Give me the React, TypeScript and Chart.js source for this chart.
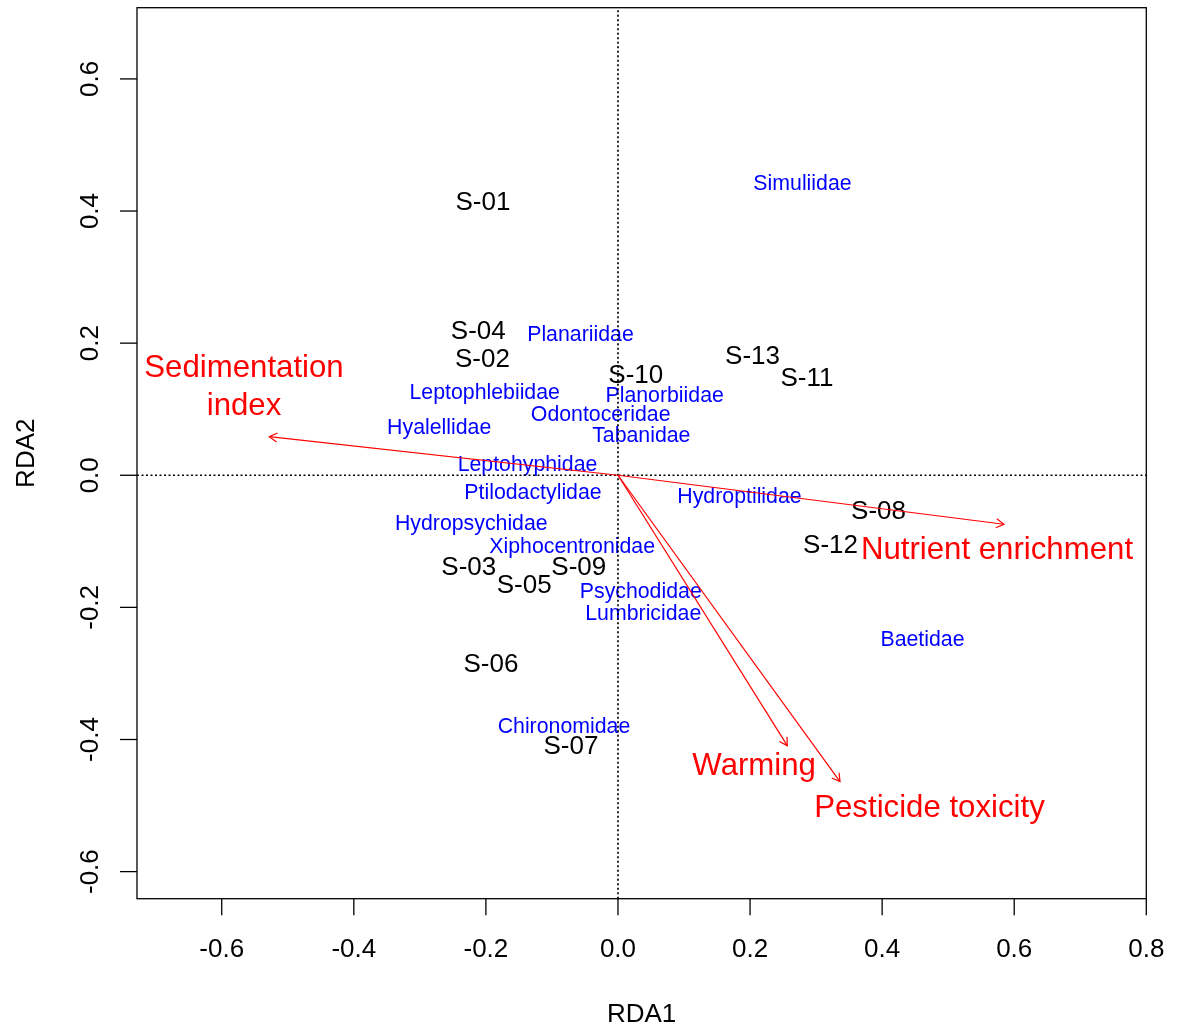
import React, { useEffect, useRef } from "react";
import { Chart, registerables } from "chart.js";

Chart.register(...registerables);

// ---- Data (RDA biplot scores) ----
const siteLabels = ["S-01", "S-02", "S-03", "S-04", "S-05", "S-06", "S-07", "S-08", "S-09", "S-10", "S-11", "S-12", "S-13"];
const siteRDA1 = [-0.2044, -0.2052, -0.2259, -0.2115, -0.142, -0.1923, -0.0712, 0.3945, -0.0594, 0.027, 0.2862, 0.3218, 0.2037];
const siteRDA2 = [0.4152, 0.1783, -0.1365, 0.2204, -0.1635, -0.2841, -0.4083, -0.0525, -0.1365, 0.1544, 0.1488, -0.104, 0.1821];

const speciesLabels = ["Simuliidae", "Planariidae", "Leptophlebiidae", "Planorbiidae", "Odontoceridae", "Hyalellidae", "Tabanidae", "Leptohyphidae", "Ptilodactylidae", "Hydroptilidae", "Hydropsychidae", "Xiphocentronidae", "Psychodidae", "Lumbricidae", "Baetidae", "Chironomidae"];
const speciesRDA1 = [0.2794, -0.0568, -0.2018, 0.0707, -0.0262, -0.2707, 0.0353, -0.137, -0.1287, 0.184, -0.2221, -0.0694, 0.0345, 0.0383, 0.4611, -0.0818];
const speciesRDA2 = [0.444, 0.215, 0.1276, 0.1223, 0.0936, 0.0736, 0.0622, 0.0186, -0.0241, -0.0298, -0.071, -0.1063, -0.1736, -0.2072, -0.2463, -0.378];

const envLabels = [["Sedimentation", "index"], ["Nutrient enrichment"], ["Warming"], ["Pesticide toxicity"]];
const envRDA1 = [-0.528, 0.5845, 0.2564, 0.3362];
const envRDA2 = [0.0584, -0.0742, -0.4093, -0.4638];
const envLabelRDA1 = [-0.5663, 0.5739, 0.2062, 0.4717];
const envLabelRDA2 = [0.1365, -0.1093, -0.4373, -0.5003];

const xTicks = [-0.6, -0.4, -0.2, 0.0, 0.2, 0.4, 0.6, 0.8];
const yTicks = [-0.6, -0.4, -0.2, 0.0, 0.2, 0.4, 0.6];
const xTitle = "RDA1";
const yTitle = "RDA2";

const X_MIN = -0.7283;
const X_MAX = 0.8;
const Y_MIN = -0.641;
const Y_MAX = 0.7078;

const FONT = '"Liberation Sans", Arial, Helvetica, sans-serif';
const CAP = 0.358;

function textAt(ctx: CanvasRenderingContext2D, text: string, px: number, py: number, size: number, color: string) {
  ctx.font = `${size}px ${FONT}`;
  ctx.fillStyle = color;
  ctx.textAlign = "center";
  ctx.textBaseline = "alphabetic";
  ctx.fillText(text, px, py + CAP * size);
}

const labelsPlugin = {
  id: "biplotLabels",
  beforeDatasetsDraw(chart: any) {
    const ctx: CanvasRenderingContext2D = chart.ctx;
    const xs = chart.scales.x;
    const ys = chart.scales.y;
    ctx.save();
    siteLabels.forEach((l, i) => {
      textAt(ctx, l, xs.getPixelForValue(siteRDA1[i]), ys.getPixelForValue(siteRDA2[i]), 26, "#000000");
    });
    speciesLabels.forEach((l, i) => {
      textAt(ctx, l, xs.getPixelForValue(speciesRDA1[i]), ys.getPixelForValue(speciesRDA2[i]), 21.3, "#0000FF");
    });
    ctx.restore();
  },
  afterDatasetsDraw(chart: any) {
    const ctx: CanvasRenderingContext2D = chart.ctx;
    const xs = chart.scales.x;
    const ys = chart.scales.y;
    ctx.save();
    // arrowheads
    const ox = xs.getPixelForValue(0);
    const oy = ys.getPixelForValue(0);
    ctx.strokeStyle = "#FF0000";
    ctx.lineWidth = 1.2;
    envRDA1.forEach((v, i) => {
      const tx = xs.getPixelForValue(v);
      const ty = ys.getPixelForValue(envRDA2[i]);
      const ang = Math.atan2(ty - oy, tx - ox);
      const len = 9;
      const spread = Math.PI / 6;
      ctx.beginPath();
      ctx.moveTo(tx - len * Math.cos(ang - spread), ty - len * Math.sin(ang - spread));
      ctx.lineTo(tx, ty);
      ctx.lineTo(tx - len * Math.cos(ang + spread), ty - len * Math.sin(ang + spread));
      ctx.stroke();
    });
    // env labels
    envLabels.forEach((lines, i) => {
      const cx = xs.getPixelForValue(envLabelRDA1[i]);
      const cy = ys.getPixelForValue(envLabelRDA2[i]);
      const lh = 38.4;
      const start = cy - ((lines.length - 1) * lh) / 2;
      lines.forEach((t, j) => textAt(ctx, t, cx, start + j * lh, 31.2, "#FF0000"));
    });
    ctx.restore();
  },
  afterDraw(chart: any) {
    const ctx: CanvasRenderingContext2D = chart.ctx;
    const xs = chart.scales.x;
    const ys = chart.scales.y;
    const a = chart.chartArea;
    ctx.save();
    ctx.strokeStyle = "#000000";
    ctx.lineWidth = 1.3;
    ctx.strokeRect(a.left, a.top, a.right - a.left, a.bottom - a.top);
    ctx.fillStyle = "#000000";
    ctx.font = `26px ${FONT}`;
    // x ticks
    xTicks.forEach((t) => {
      const px = xs.getPixelForValue(t);
      ctx.beginPath();
      ctx.moveTo(px, a.bottom);
      ctx.lineTo(px, a.bottom + 16.5);
      ctx.stroke();
      ctx.textAlign = "center";
      ctx.textBaseline = "alphabetic";
      ctx.fillText(t.toFixed(1), px, a.bottom + 58);
    });
    // y ticks
    yTicks.forEach((t) => {
      const py = ys.getPixelForValue(t);
      ctx.beginPath();
      ctx.moveTo(a.left, py);
      ctx.lineTo(a.left - 17, py);
      ctx.stroke();
      ctx.save();
      ctx.translate(a.left - 39, py);
      ctx.rotate(-Math.PI / 2);
      ctx.textAlign = "center";
      ctx.textBaseline = "alphabetic";
      ctx.fillText(t.toFixed(1), 0, 0);
      ctx.restore();
    });
    // axis titles
    ctx.textAlign = "center";
    ctx.textBaseline = "alphabetic";
    ctx.fillText(xTitle, (a.left + a.right) / 2, 1022);
    ctx.save();
    ctx.translate(34, (a.top + a.bottom) / 2);
    ctx.rotate(-Math.PI / 2);
    ctx.fillText(yTitle, 0, 0);
    ctx.restore();
    ctx.restore();
  },
};

export default function App() {
  const ref = useRef<HTMLCanvasElement | null>(null);
  useEffect(() => {
    if (!ref.current) return;
    const arrowSets = envRDA1.map((v, i) => ({
      label: envLabels[i].join(" "),
      data: [{ x: 0, y: 0 }, { x: v, y: envRDA2[i] }],
      showLine: true,
      borderColor: "#FF0000",
      borderWidth: 1.2,
      pointRadius: 0,
      fill: false,
    }));
    const chart = new Chart(ref.current, {
      type: "scatter",
      data: {
        datasets: [
          ...arrowSets,
          {
            label: "h0",
            data: [{ x: X_MIN, y: 0 }, { x: X_MAX, y: 0 }],
            showLine: true,
            borderColor: "#000000",
            borderWidth: 1.7,
            borderDash: [2, 2.5],
            pointRadius: 0,
          },
          {
            label: "v0",
            data: [{ x: 0, y: Y_MIN }, { x: 0, y: Y_MAX }],
            showLine: true,
            borderColor: "#000000",
            borderWidth: 1.7,
            borderDash: [2, 2.5],
            pointRadius: 0,
          },
        ] as any,
      },
      options: {
        animation: false,
        responsive: false,
        devicePixelRatio: 1,
        layout: { padding: { left: 137, top: 7.7, right: 37.7, bottom: 126.3 } },
        plugins: { legend: { display: false }, tooltip: { enabled: false }, title: { display: false } },
        scales: {
          x: { type: "linear", min: X_MIN, max: X_MAX, display: false },
          y: { type: "linear", min: Y_MIN, max: Y_MAX, display: false },
        },
        events: [],
      } as any,
      plugins: [labelsPlugin],
    });
    return () => chart.destroy();
  }, []);
  return (
    <div style={{ position: "fixed", left: 0, top: 0, width: 1184, height: 1025, background: "#fff" }}>
      <canvas ref={ref} width={1184} height={1025} style={{ width: 1184, height: 1025, display: "block" }} />
    </div>
  );
}
